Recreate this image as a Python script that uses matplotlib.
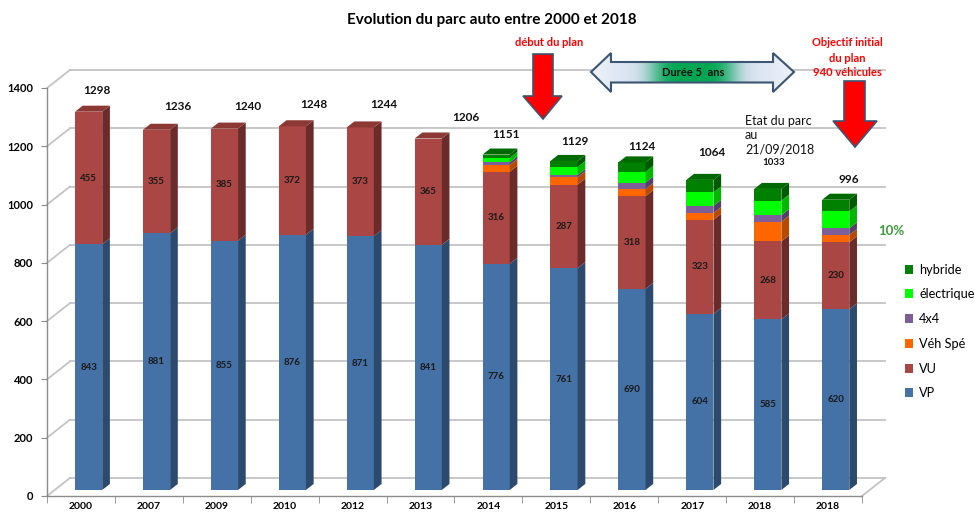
import numpy as np
import matplotlib
matplotlib.use("Agg")
import matplotlib.pyplot as plt
from matplotlib.patches import Polygon
from matplotlib.colors import to_rgb

plt.rcParams['font.family'] = ['Lato', 'DejaVu Sans']

# ---------------- data ----------------
categories = ['2000', '2007', '2009', '2010', '2012', '2013',
              '2014', '2015', '2016', '2017', '2018', '2018']
vp = [843, 881, 855, 876, 871, 841, 776, 761, 690, 604, 585, 620]
vu = [455, 355, 385, 372, 373, 365, 316, 287, 318, 323, 268, 230]
veh_spe = [0, 0, 0, 0, 0, 0, 23, 25, 25, 23, 67, 25]
x4 = [0, 0, 0, 0, 0, 0, 9, 8, 22, 25, 23, 23]
electrique = [0, 0, 0, 0, 0, 0, 16, 27, 37, 46, 50, 58]
hybride = [0, 0, 0, 0, 0, 0, 11, 21, 32, 43, 40, 40]
series_names = ['VP', 'VU', 'Véh Spé', '4x4', 'électrique', 'hybride']
yticks = [0, 200, 400, 600, 800, 1000, 1200, 1400]

# ---------------- styles / layout ----------------
front_cols = ['#4471A6', '#AA4643', '#FF6600', '#7D5E99', '#00FF00', '#008000']
side_cols = ['#2C4A6E', '#6B2B2A', '#B84A00', '#56406B', '#00B800', '#005A00']
top_cols = ['#3A6090', '#8C3834', '#D95500', '#6A5085', '#00D800', '#006A00']
# total label offsets (x in category units, y in value units)
lab_dx = [0.24, 0.42, 0.45, 0.43, 0.46, 0.67, 0.26, 0.28, 0.26, 0.29, 0.20, 0.31]
lab_dy = [95, 99, 98, 97, 101, 94, 91, 89, 74, 113, 110, 89]

W, H = 974, 513
fig = plt.figure(figsize=(W / 100, H / 100), dpi=100)
ax = fig.add_axes([47 / W, 17 / H, (862 - 47) / W, 408 / H])
ax.set_xlim(-0.5, 11.5)
ax.set_ylim(0, 1400)

DX, DY = 0.339, 62.0        # full depth of the 3D box
bx, by = DX / 3, DY / 3     # bar depth offset
bw = 0.4                    # bar width

n = len(categories)
x = np.arange(n)
series = [vp, vu, veh_spe, x4, electrique, hybride]

grid_c = '#C4C4C4'
for v in yticks:
    ax.plot([-0.5 + DX, 11.5 + DX], [v + DY, v + DY], color=grid_c, lw=1.3,
            zorder=0, clip_on=False)
    ax.plot([-0.5, -0.5 + DX], [v, v + DY], color=grid_c, lw=1.3, zorder=0,
            clip_on=False)
ax.plot([11.5, 11.5 + DX], [0, DY], color=grid_c, lw=1.3, zorder=0, clip_on=False)

bottoms = np.zeros(n)
handles = []
for k, vals in enumerate(series):
    vals = np.array(vals, dtype=float)
    h = ax.bar(x + bx, vals, width=bw, bottom=bottoms + by, color=front_cols[k],
               linewidth=0, zorder=3, label=series_names[k], clip_on=False)
    handles.append(h)
    for i in range(n):
        if vals[i] <= 0:
            continue
        xr = x[i] + bx + bw / 2
        b = bottoms[i] + by
        t = b + vals[i]
        ax.add_patch(Polygon([(xr, b), (xr + bx, b + by), (xr + bx, t + by), (xr, t)],
                             closed=True, facecolor=side_cols[k], edgecolor='none',
                             zorder=3, clip_on=False))
    bottoms = bottoms + vals

totals = bottoms.copy()
for i in range(n):
    top_k = max(k for k in range(len(series)) if series[k][i] > 0)
    xl = x[i] + bx - bw / 2
    xr = x[i] + bx + bw / 2
    t = totals[i] + by
    ax.add_patch(Polygon([(xl, t), (xr, t), (xr + bx, t + by), (xl + bx, t + by)],
                         closed=True, facecolor=top_cols[top_k], edgecolor='none',
                         zorder=3, clip_on=False))

for i in range(n):
    ax.text(x[i] + bx, vp[i] / 2 + by, str(vp[i]), ha='center', va='center',
            fontsize=7, fontweight='bold', color='#1a1a1a', zorder=5)
    ax.text(x[i] + bx, vp[i] + vu[i] / 2 + by, str(vu[i]), ha='center',
            va='center', fontsize=7, fontweight='bold', color='#1a1a1a', zorder=5)

for i in range(n):
    fs = 7 if i == 10 else 8.5
    ax.text(x[i] + lab_dx[i], totals[i] + lab_dy[i], str(int(totals[i])),
            ha='center', va='center', fontsize=fs, fontweight='bold',
            color='#111111', zorder=5)

for s in ['top', 'right']:
    ax.spines[s].set_visible(False)
for s in ['left', 'bottom']:
    ax.spines[s].set_color('#8C8C8C')
    ax.spines[s].set_linewidth(1.0)
ax.set_yticks(yticks)
ax.set_yticklabels([str(v) for v in yticks], fontsize=8, fontweight='bold')
ax.tick_params(axis='y', length=4, color='#8C8C8C', pad=6)
ax.set_xticks(x)
ax.set_xticklabels(categories, fontsize=7.5, fontweight='bold')
ax.tick_params(axis='x', which='major', length=0, pad=4)
ax.set_xticks(np.arange(-0.5, n, 1.0), minor=True)
ax.tick_params(axis='x', which='minor', length=5, color='#8C8C8C')
ax.patch.set_alpha(0)

leg = fig.legend(handles=handles[::-1], labels=series_names[::-1],
                 loc='upper left', bbox_to_anchor=(893 / W, 1 - 252 / H),
                 frameon=False, fontsize=9.2, handlelength=0.7, handleheight=0.7,
                 handletextpad=0.45, labelspacing=1.0, borderpad=0.4)

fig.text(492 / W, 1 - 20 / H, 'Evolution du parc auto entre 2000 et 2018',
         ha='center', va='center', fontsize=11, fontweight='bold')

# ---------------- overlay annotations (pixel coords) ----------------
ov = fig.add_axes([0, 0, 1, 1], zorder=10)
ov.set_xlim(0, W)
ov.set_ylim(H, 0)
ov.axis('off')
ov.patch.set_alpha(0)

edge = '#3B5573'
def down_arrow(x0, x1, ytop, yhead, hx0, hx1, tipx, tipy):
    ov.add_patch(Polygon([(x0, ytop), (x1, ytop), (x1, yhead), (hx1, yhead),
                          (tipx, tipy), (hx0, yhead), (x0, yhead)], closed=True,
                         facecolor='#FF0000', edgecolor=edge, lw=1.2))

down_arrow(533, 553, 54, 96, 523, 562, 543, 119)
down_arrow(844, 865, 81, 121, 833, 877, 855, 147)

for txt, yy in [('Objectif initial', 43), ('du plan', 58), ('940 véhicules', 72)]:
    ov.text(847, yy, txt, ha='center', va='center', color='#FF0000',
            fontsize=8, fontweight='bold')
ov.text(549, 43, 'début du plan', ha='center', va='center', color='#FF0000',
        fontsize=8, fontweight='bold')

for txt, yy in [('Etat du parc', 121), ('au', 135), ('21/09/2018', 149)]:
    ov.text(745, yy, txt, ha='left', va='center', fontsize=9, color='#111111')

ov.text(891, 231, '10%', ha='center', va='center', fontsize=9.5,
        fontweight='bold', color='#3C9A3C')

L, R, Tt, Bb = 591, 794, 52, 94
poly = Polygon([(591, 72), (611, 53), (611, 62), (773, 62), (773, 53), (794, 72),
                (773, 92), (773, 82.5), (611, 82.5), (611, 92)], closed=True,
               facecolor='none', edgecolor=edge, lw=1.5, zorder=12)
xs = np.linspace(L, R, 300)
ys = np.linspace(Tt, Bb, 60)
XX, YY = np.meshgrid(xs, ys)
c_mid = np.array(to_rgb('#B7CBE4'))
c_end = np.array(to_rgb('#EEF2F9'))
t = np.clip(np.abs(XX - 692) / 101, 0, 1)[..., None]
img = c_mid * (1 - t) + c_end * t
g = np.exp(-((XX - 693) / 42) ** 4) * ((YY >= 62) & (YY <= 82.5))
green = np.array(to_rgb('#00A651'))
img = img * (1 - g[..., None]) + green * g[..., None]
im = ov.imshow(img, extent=(L, R, Bb, Tt), origin='upper', aspect='auto',
               zorder=11, interpolation='bilinear')
ov.add_patch(poly)
clip = Polygon(poly.get_xy(), closed=True, transform=ov.transData)
im.set_clip_path(clip)
ov.set_xlim(0, W)
ov.set_ylim(H, 0)
ov.text(693, 72.5, 'Durée 5  ans', ha='center', va='center', fontsize=8,
        fontweight='bold', color='#111111', zorder=13)

fig.savefig('out.png', dpi=100)
